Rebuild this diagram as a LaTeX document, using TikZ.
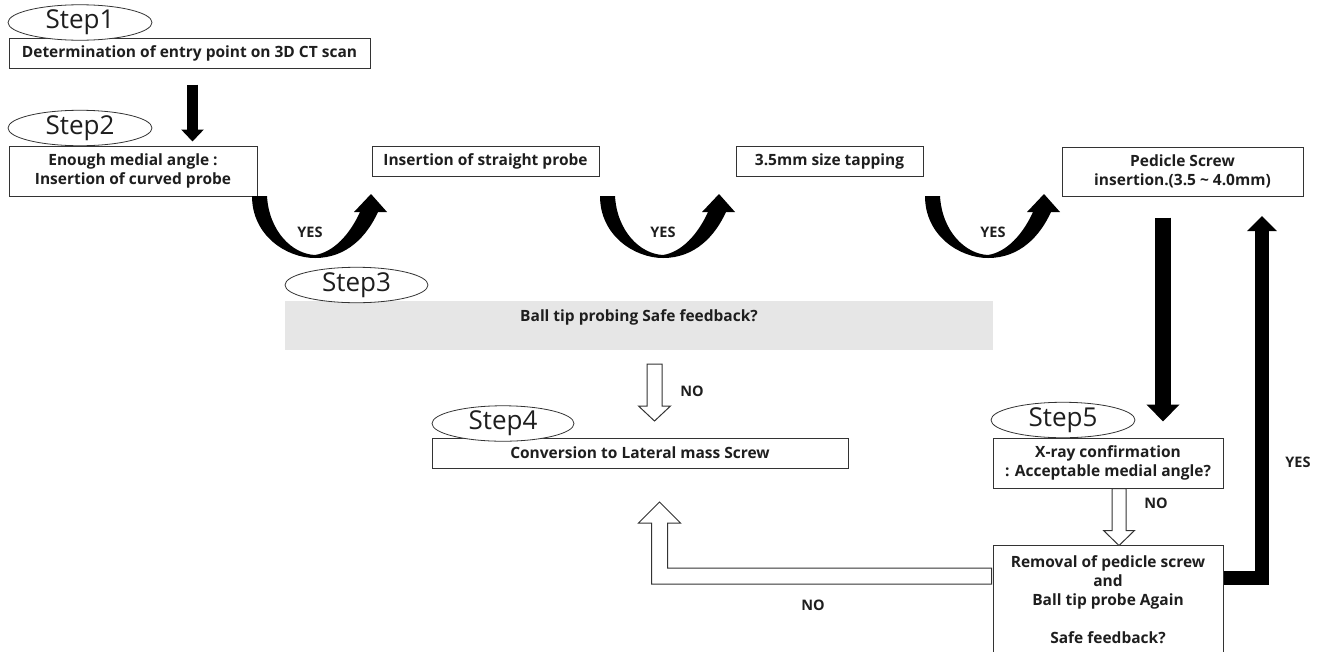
\documentclass[tikz,border=0pt]{standalone}
\usepackage{fontspec}
\setmainfont{Open Sans}
\usetikzlibrary{arrows.meta,positioning,calc,shapes.geometric}
\definecolor{ink}{HTML}{1E1E1E}
\definecolor{rim}{HTML}{333333}
\definecolor{shade}{HTML}{E6E6E6}
\tikzset{box/.style={draw=rim,line width=1pt,fill=white,align=center,font=\fontsize{15.5}{19}\selectfont\bfseries,text=ink,inner sep=0pt},stepmark/.style={ellipse,draw=rim,line width=0.8pt,fill=white,minimum width=144pt,minimum height=29pt,inner sep=0pt,font=\fontsize{26}{26}\selectfont,text=ink},blk/.style={draw=black,line width=11pt,-{Triangle[length=12pt,width=22pt]}},hollow/.style={draw=rim,line width=1pt,fill=white,line join=miter},tag/.style={font=\fontsize{14.5}{14.5}\selectfont\bfseries,text=ink}}

\begin{document}
\begin{tikzpicture}[x=1pt,y=-1pt]
\useasboundingbox (0,0) rectangle (1322,651);
% step boxes
\node[box,minimum width=361pt,minimum height=30pt] (b1) at (189.5,53) {Determination of entry point on 3D CT scan};
\node[box,minimum width=248pt,minimum height=50pt] (b2) at (133,171) {Enough medial angle :\\Insertion of curved probe};
\node[box,minimum width=227pt,minimum height=30pt] (b3) at (485.5,161) {Insertion of straight probe};
\node[box,minimum width=187pt,minimum height=30pt] (b4) at (829.5,161) {3.5mm size tapping};
\node[box,minimum width=241pt,minimum height=49pt] (b5) at (1182.5,171.5) {Pedicle Screw\\insertion.(3.5 \textasciitilde{} 4.0mm)};
\node[box,draw=none,fill=shade,anchor=north,minimum width=708pt,text height=21pt,text depth=28pt] (g3) at (639,300) {Ball tip probing Safe feedback?};
\node[box,minimum width=416pt,minimum height=30pt] (c4) at (640,453) {Conversion to Lateral mass Screw};
\node[box,minimum width=230pt,minimum height=50pt] (b6) at (1108,463) {X-ray confirmation\\: Acceptable medial angle?};
\node[box,anchor=north,minimum width=230pt,inner ysep=10pt] (b7) at (1108,545) {Removal of pedicle screw\\and\\Ball tip probe Again\\[19pt]Safe feedback?};
% step labels
\node[stepmark] (e1) at (80,22.5) {Step1};
\node[stepmark] (e2) at (80,128) {Step2};
\node[stepmark,minimum width=143pt,minimum height=28pt] (e3) at (356.5,285) {Step3};
\node[stepmark,minimum width=142pt] (e4) at (503,423.5) {Step4};
\node[stepmark,minimum height=30pt] (e5) at (1063,420) {Step5};
% curved yes arrows
\foreach \x/\lx in {252/310,600/663,925/993}{
\fill[black] (\x,196) .. controls ++(0,40) and ++(-28,0) .. ++(63,62) .. controls ++(32,0) and ++(-11,24) .. ++(63,-46) -- ++(9,0) -- ++(-16,-18) -- ++(-17,18) -- ++(6,0) .. controls ++(-10,22) and ++(19,-3) .. ++(-45,43) .. controls ++(-23,-1) and ++(2,35) .. ++(-48,-59) -- cycle;
\node[tag] (y\x) at (\lx,232) {YES};
}
% straight black arrows
\draw[blk] ($(b1.south)+(3,16)$) -- ++(0,57);
\draw[blk,line width=16pt,-{Triangle[length=17pt,width=32pt]}] ($(b5.south)+(-19.5,21)$) -- ++(0,204);
\draw[blk,line width=14pt,line join=miter,-{Triangle[length=15pt,width=29pt]}] ($(b7.north east)+(0,33)$) -- ++(38.5,0) -- ++(0,-362);
\node[tag] (yes7) at (1298,462) {YES};
% hollow no arrows
\coordinate (n3) at ($(g3.south)+(15.5,14)$);
\draw[hollow] (n3) ++(-7.5,0) -- ++(15,0) -- ++(0,42) -- ++(8.5,0) -- ++(-16,15) -- ++(-16,-15) -- ++(8.5,0) -- cycle;
\node[tag] (no3) at (692,391) {NO};
\coordinate (n5) at ($(b6.south)+(11,0)$);
\draw[hollow] (n5) ++(-7,0) -- ++(14,0) -- ++(0,42) -- ++(8.5,0) -- ++(-15.5,15) -- ++(-15.5,-15) -- ++(8.5,0) -- cycle;
\node[tag] (no5) at (1156,503) {NO};
\coordinate (n7) at ($(b7.north west)+(-1,23)$);
\draw[hollow] (n7) -- ++(-324,0) -- ++(0,-45) -- ++(13,0) -- ++(-21,-21) -- ++(-21,21) -- ++(13,0) -- ++(0,61) -- ++(340,0) -- cycle;
\node[tag] (no7) at (813,605) {NO};
\end{tikzpicture}
\end{document}
